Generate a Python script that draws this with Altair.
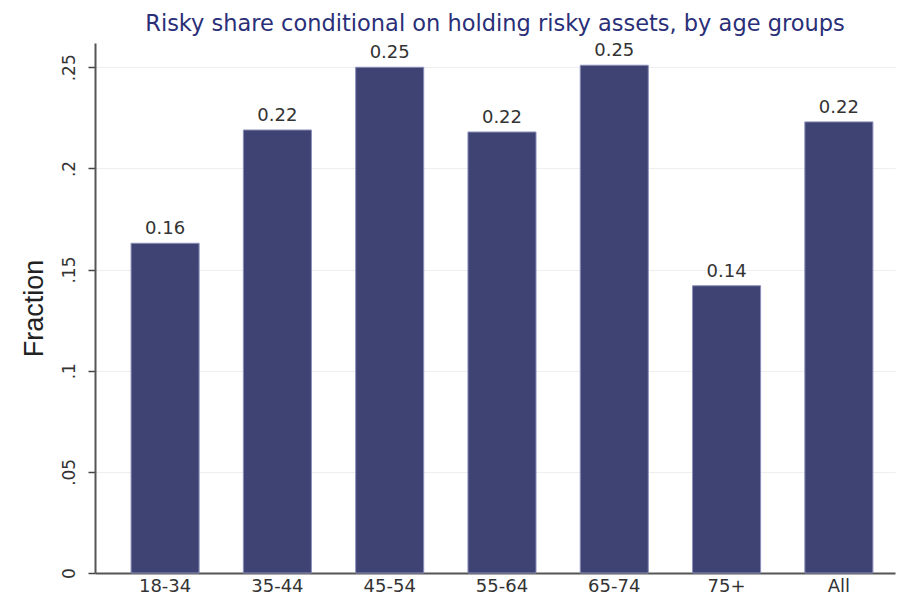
import altair as alt
import pandas as pd

groups = ["18-34", "35-44", "45-54", "55-64", "65-74", "75+", "All"]
values = [0.163, 0.219, 0.250, 0.218, 0.251, 0.142, 0.223]
labels = ["0.16", "0.22", "0.25", "0.22", "0.25", "0.14", "0.22"]
y_ticks = [0, 0.05, 0.1, 0.15, 0.2, 0.25]

df = pd.DataFrame({"group": groups, "value": values, "label": labels})

x = alt.X("group:N", sort=groups, title=None,
          scale=alt.Scale(paddingInner=0.394, paddingOuter=0.259, align=0.62),
          axis=alt.Axis(labelAngle=0, labelFontSize=18, labelColor="#333333",
                        labelFont="DejaVu Sans", labelPadding=4,
                        ticks=False, domainColor="#555555", domainWidth=2))
y = alt.Y("value:Q", title="Fraction",
          scale=alt.Scale(domain=[0, 0.262], nice=False),
          axis=alt.Axis(values=y_ticks, labelExpr="datum.value == 0 ? '0' : replace(format(datum.value, '.2~f'), '0.', '.')",
                        labelAngle=-90, labelAlign="center", labelBaseline="bottom",
                        labelFontSize=17, labelColor="#333333", labelFont="DejaVu Sans",
                        labelPadding=10, tickSize=7, tickColor="#444444", tickWidth=1.5,
                        domainColor="#555555", domainWidth=2,
                        grid=True, gridColor="#eeeeee", gridWidth=1,
                        titleFontSize=27, titleFont="Liberation Sans", titleFontWeight="normal",
                        titleColor="#222222", titlePadding=12))

bars = alt.Chart(df).mark_bar(color="#3e4374", stroke="#8a8fb8", strokeWidth=1).encode(x=x, y=y)
text = alt.Chart(df).mark_text(dy=-9, baseline="alphabetic", fontSize=18, color="#333333",
                               font="DejaVu Sans").encode(
    x=alt.X("group:N", sort=groups), y="value:Q", text="label:N")

chart = (bars + text).properties(
    width=800, height=530,
    autosize=alt.AutoSizeParams(type="none"),
    padding={"left": 87, "top": 35, "right": 2, "bottom": 25},
    title=alt.TitleParams("Risky share conditional on holding risky assets, by age groups",
                          fontSize=22.5, font="DejaVu Sans", fontWeight="normal",
                          color="#2a2f78", anchor="middle", offset=7),
).configure_view(stroke=None)

chart.save("out.html", embed_options={"renderer": "svg", "actions": False})
